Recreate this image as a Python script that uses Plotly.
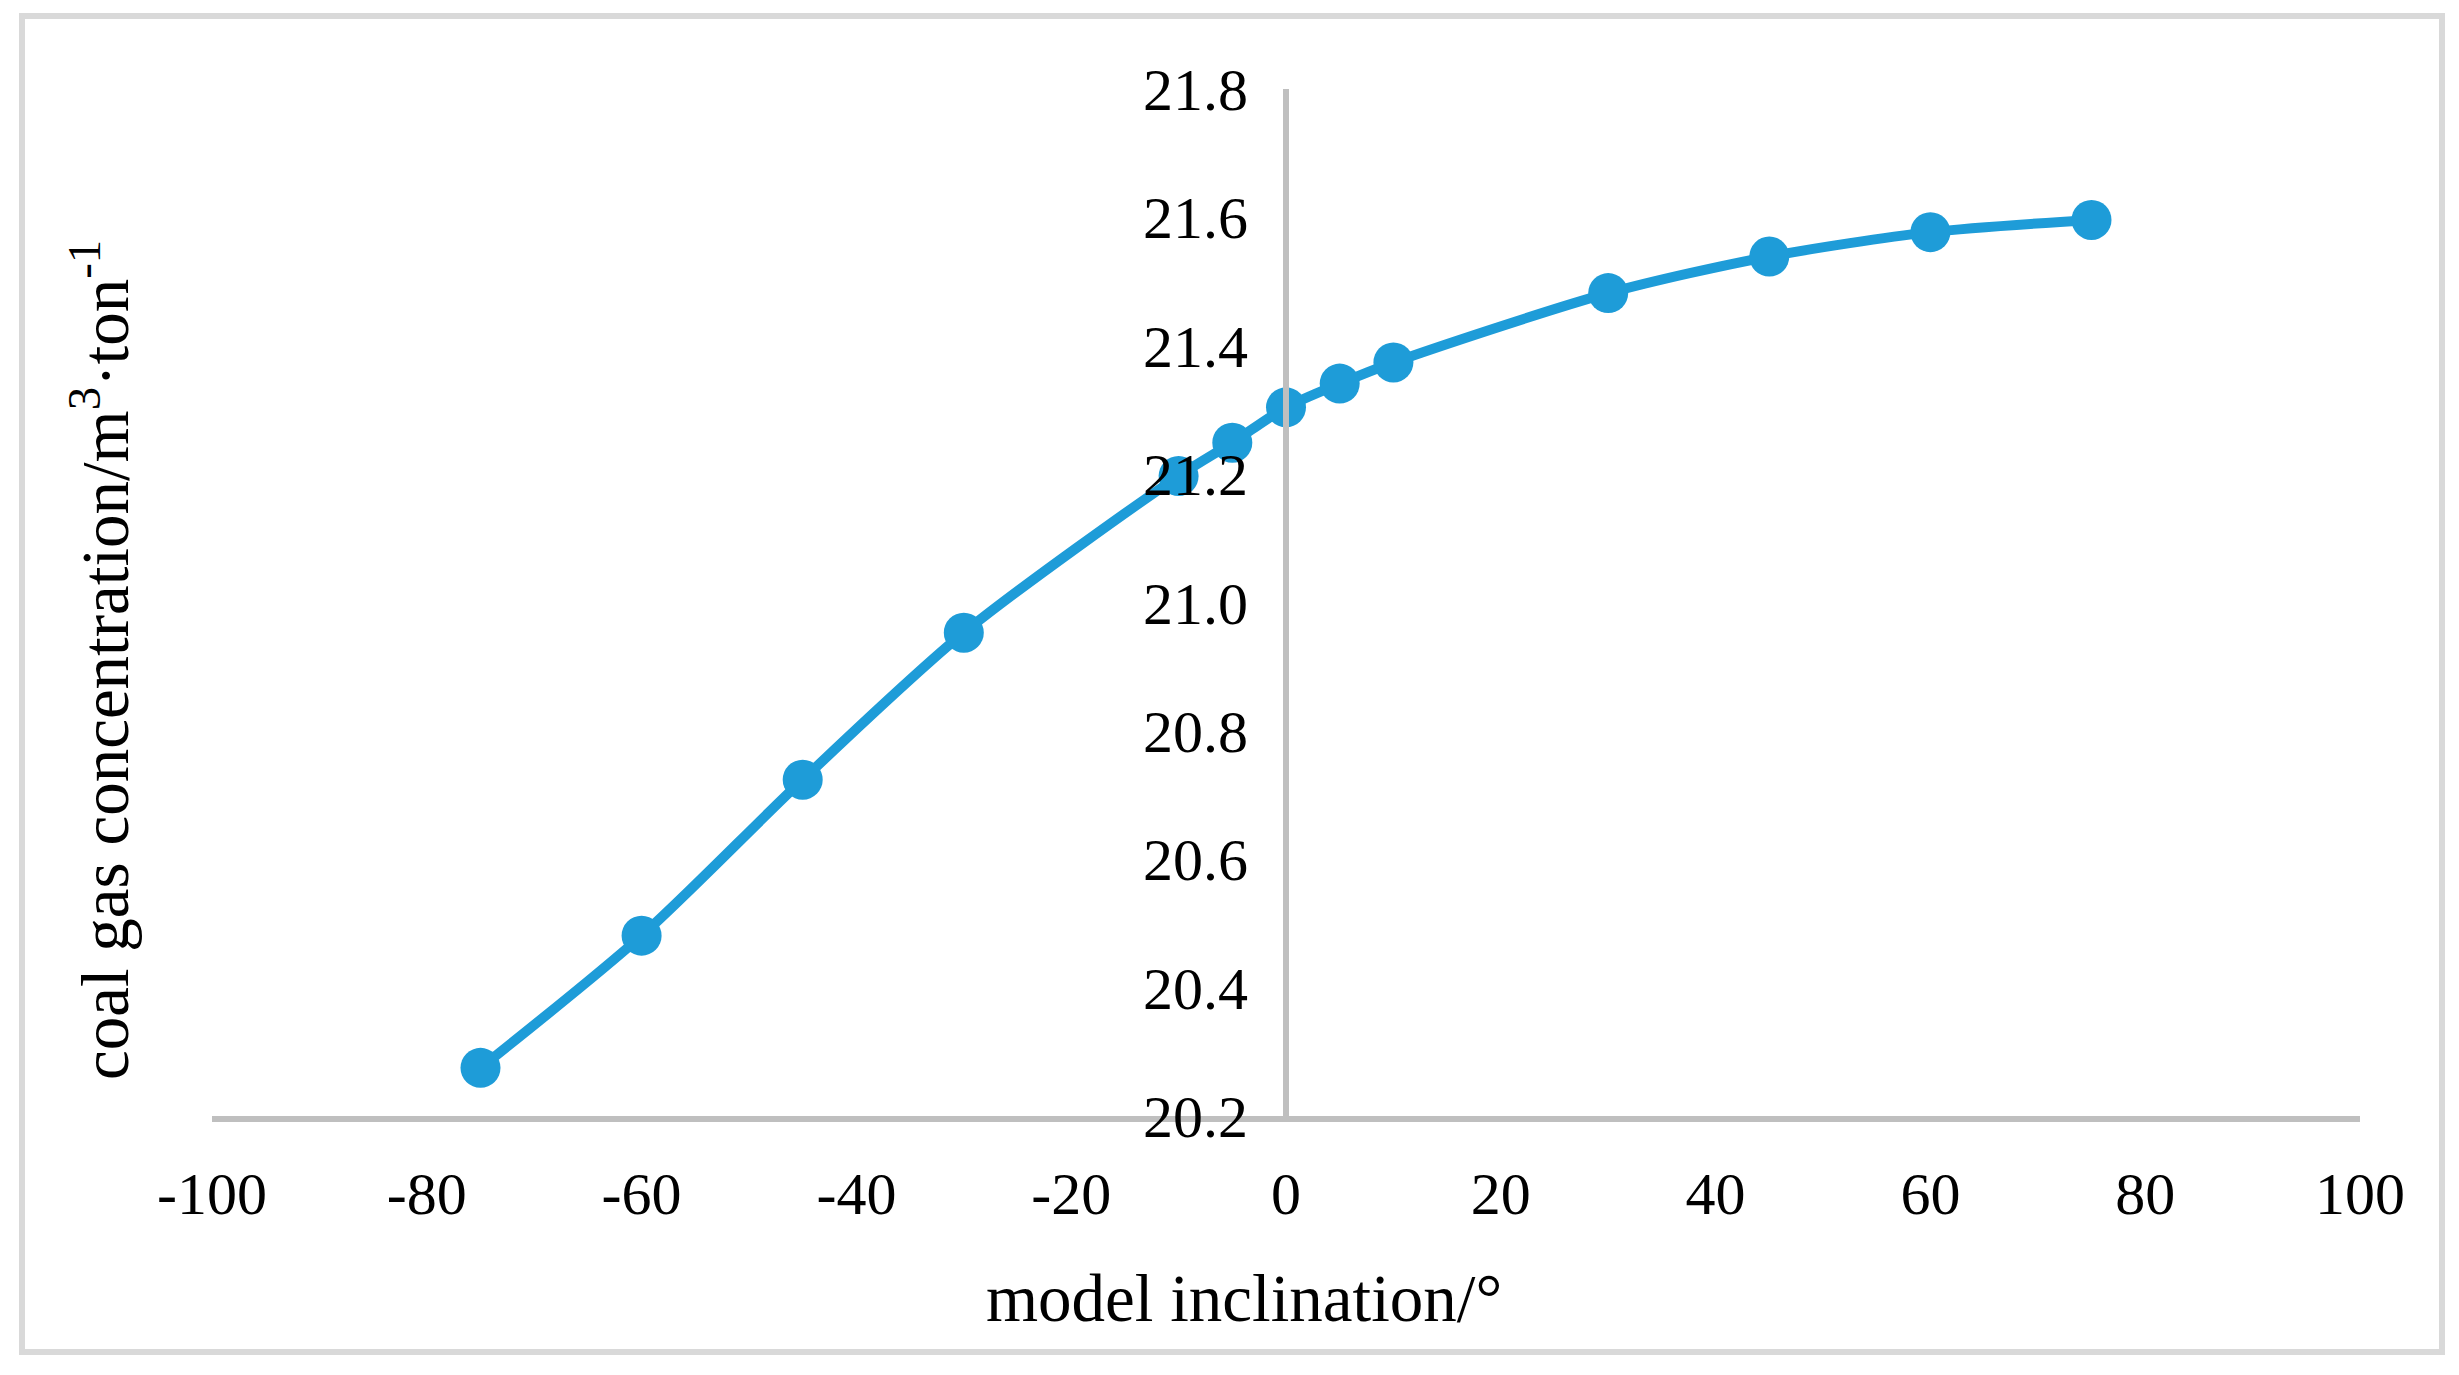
import plotly.graph_objects as go

# Data
inclination = [-75, -60, -45, -30, -10, -5, 0, 5, 10, 30, 45, 60, 75]
gas_concentration = [20.275, 20.481, 20.724, 20.953, 21.197, 21.249, 21.304,
                     21.341, 21.374, 21.482, 21.539, 21.577, 21.596]

x_ticks = [-100, -80, -60, -40, -20, 0, 20, 40, 60, 80, 100]
x_tick_labels = ["-100", "-80", "-60", "-40", "-20", "0", "20", "40", "60", "80", "100"]
y_ticks = [20.2, 20.4, 20.6, 20.8, 21.0, 21.2, 21.4, 21.6, 21.8]
y_tick_labels = ["20.2", "20.4", "20.6", "20.8", "21.0", "21.2", "21.4", "21.6", "21.8"]

# page body has an 8px margin; work in screenshot pixels and shift
OFF = 8
W, H = 2459 - OFF, 1375 - OFF
L = 212 - OFF
T = 89 - OFF
R = W - (2360 - OFF)
B = H - (1116 - OFF)
pw, ph = W - L - R, H - T - B

def px_x(p):
    return (p - OFF - L) / pw

def px_y(p):
    return (H - B - (p - OFF)) / ph

FONT = "Liberation Serif, Times New Roman, serif"
BLUE = "#1E9CD8"

fig = go.Figure()
fig.add_trace(go.Scatter(
    x=inclination, y=gas_concentration,
    mode="lines+markers",
    line=dict(color=BLUE, width=10, shape="spline", smoothing=0.8),
    marker=dict(color=BLUE, size=40),
    showlegend=False,
))

fig.update_layout(
    width=W, height=H,
    margin=dict(l=L, r=R, t=T, b=B),
    paper_bgcolor="white", plot_bgcolor="white",
    font=dict(family=FONT, color="black", size=60),
    xaxis=dict(
        range=[-100, 100], tickvals=x_ticks, ticktext=x_tick_labels,
        showgrid=False, zeroline=False, showline=True,
        linecolor="#BFBFBF", linewidth=6,
        ticks="", tickfont=dict(size=60, family=FONT, color="black"),
        ticklabelstandoff=20,
    ),
    yaxis=dict(
        range=[20.2, 21.8], tickvals=y_ticks, ticktext=y_tick_labels,
        showgrid=False, zeroline=False, showline=True,
        linecolor="#BFBFBF", linewidth=6,
        anchor="free", position=0.5,
        ticks="", tickfont=dict(size=60, family=FONT, color="black"),
        ticklabelstandoff=23,
    ),
    annotations=[
        dict(text="model inclination/°", xref="paper", yref="paper",
             x=px_x(1244), y=px_y(1298), xanchor="center", yanchor="middle",
             showarrow=False, font=dict(size=67, family=FONT, color="black")),
        dict(text="coal gas concentration/m<sup>3</sup>·ton<sup>-1</sup>",
             xref="paper", yref="paper",
             x=px_x(100), y=px_y(660), xanchor="center", yanchor="middle",
             textangle=-90, showarrow=False,
             font=dict(size=67, family=FONT, color="black")),
    ],
    shapes=[
        dict(type="rect", xref="paper", yref="paper",
             x0=px_x(22), x1=px_x(2442), y0=px_y(1352), y1=px_y(16),
             line=dict(color="#D9D9D9", width=6), fillcolor="rgba(0,0,0,0)",
             layer="below"),
    ],
)

fig.write_html("out.html")
